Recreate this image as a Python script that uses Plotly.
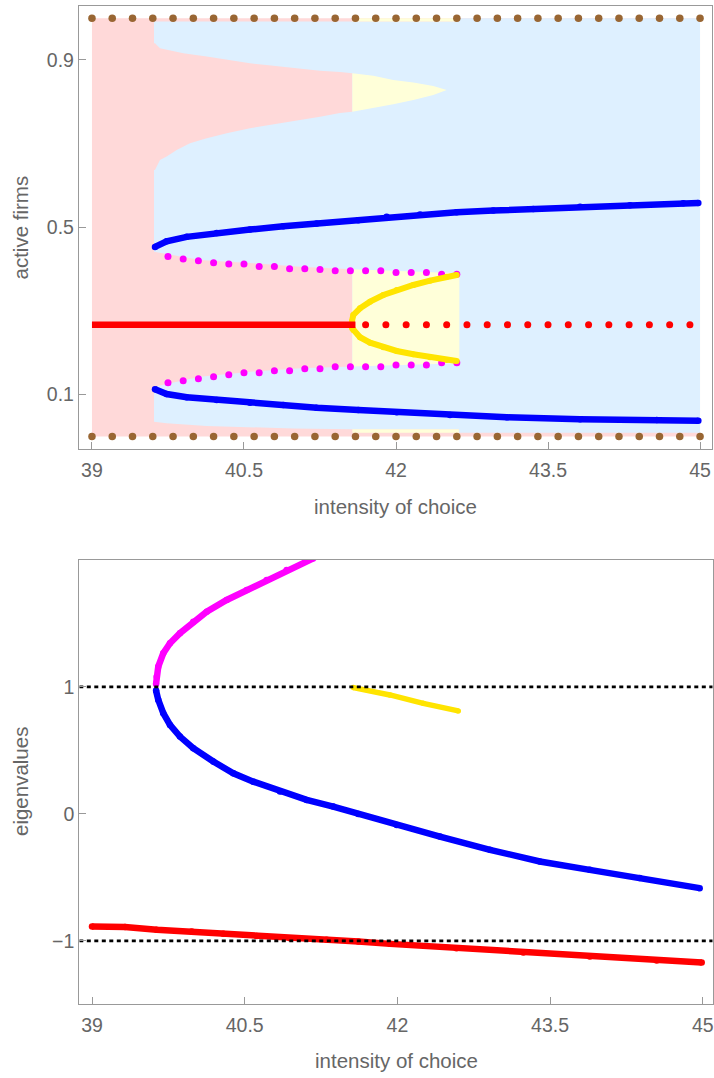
import plotly.graph_objects as go

# ---------------- top panel data ----------------
xticks = [39, 40.5, 42, 43.5, 45]
xtick_text = ["39", "40.5", "42", "43.5", "45"]
top_yticks = [0.1, 0.5, 0.9]
top_ytick_text = ["0.1", "0.5", "0.9"]
bot_yticks = [-1, 0, 1]
bot_ytick_text = ["\u22121", "0", "1"]

# basin background boundaries
base_x = [39, 45, 45, 39]
base_y = [0, 0, 1, 1]

blue_bot_x = [39.612, 39.737, 40.132, 40.461, 40.987, 41.569, 42.62, 42.62, 45.0]
blue_bot_y = [0.0353, 0.0315, 0.025, 0.022, 0.019, 0.017, 0.017, 0.009, 0.009]
blue_top_x = [39.612, 42.62, 42.62, 45.0]
blue_top_y = [0.992, 0.992, 1.0, 1.0]

wedge_up_x = [39.612, 39.622, 39.671, 39.802, 39.901, 40.132, 40.329, 40.559, 40.789, 41.020, 41.250, 41.447, 41.569]
wedge_up_y = [0.940, 0.940, 0.928, 0.922, 0.916, 0.908, 0.900, 0.892, 0.886, 0.880, 0.874, 0.871, 0.868]
wedge_lo_x = [39.612, 39.622, 39.671, 39.737, 39.836, 39.967, 40.132, 40.329, 40.559, 40.789, 41.020, 41.250, 41.447, 41.569]
wedge_lo_y = [0.637, 0.637, 0.661, 0.669, 0.685, 0.701, 0.713, 0.725, 0.737, 0.745, 0.755, 0.764, 0.773, 0.776]

ywedge_x = [41.569, 41.776, 41.973, 42.171, 42.368, 42.500]
ywedge_up = [0.868, 0.862, 0.852, 0.846, 0.838, 0.828]
ywedge_lo = [0.776, 0.785, 0.794, 0.804, 0.816, 0.828]

mid_x = [39.612, 40.066, 40.592, 41.053, 41.569]
mid_up = [0.4417, 0.4219, 0.414, 0.4059, 0.3996]
mid_lo = [0.119, 0.143, 0.155, 0.163, 0.167]

ymid_x = [41.569, 42.625]
ymid_up = [0.3996, 0.390]
ymid_lo = [0.167, 0.175]

ystrip_x = [41.569, 42.62]
ystrip_top = [0.992, 1.0]
ystrip_bot = [0.009, 0.017]

# attractor branches
blue_up_x = [39.622, 39.737, 39.935, 40.231, 40.559, 40.888, 41.217, 41.628, 41.908, 42.237,
             42.599, 42.960, 43.355, 43.816, 44.309, 44.835, 44.983]
blue_up_y = [0.4531, 0.4665, 0.4771, 0.4866, 0.4945, 0.5024, 0.5088, 0.5167, 0.5249, 0.5304,
             0.5359, 0.5399, 0.544, 0.5488, 0.5526, 0.5575, 0.558]
blue_lo_x = [39.622, 39.737, 39.935, 40.231, 40.559, 40.888, 41.217, 41.628, 42.007, 42.533,
             43.093, 43.816, 44.573, 44.983]
blue_lo_y = [0.1128, 0.1015, 0.0936, 0.0872, 0.0807, 0.0752, 0.0688, 0.0633, 0.0578, 0.0513,
             0.0458, 0.041, 0.0394, 0.0377]

magenta_x = [39.75, 39.9, 40.05, 40.2, 40.35, 40.5, 40.65, 40.8, 40.95, 41.1,
             41.25, 41.4, 41.55, 41.7, 41.85, 42.0, 42.15, 42.3, 42.45, 42.6]
magenta_up = [0.430, 0.424, 0.420, 0.415, 0.412, 0.412, 0.406, 0.406, 0.401, 0.401,
              0.399, 0.396, 0.396, 0.396, 0.396, 0.392, 0.392, 0.392, 0.388, 0.388]
magenta_lo = [0.1285, 0.1333, 0.1381, 0.1429, 0.1477, 0.1525, 0.1525, 0.1572, 0.1572, 0.162,
              0.162, 0.1668, 0.1668, 0.1668, 0.1668, 0.1709, 0.1709, 0.1709, 0.1764, 0.1764]

red_line_x = [39.0, 41.6]
red_line_y = [0.267, 0.267]
red_dot_x = [41.7, 41.9, 42.1, 42.3, 42.5, 42.7, 42.9, 43.1, 43.3, 43.5,
             43.7, 43.9, 44.1, 44.3, 44.5, 44.7, 44.9]
red_dot_y = [0.267] * len(red_dot_x)

yel_x = [41.565, 41.579, 41.645, 41.744, 41.875, 42.007, 42.171, 42.336, 42.5, 42.599]
yel_up = [0.275, 0.2904, 0.3064, 0.3222, 0.3382, 0.3502, 0.3621, 0.3724, 0.382, 0.386]
yel_lo = [0.259, 0.2545, 0.2371, 0.2242, 0.2132, 0.2043, 0.1964, 0.1893, 0.1828, 0.1804]

brown_x = [39.0 + 0.2 * i for i in range(31)]
brown_top = [1.0] * len(brown_x)
brown_bot = [0.0] * len(brown_x)

# ---------------- bottom panel data ----------------
ev_mag_x = [39.629, 39.635, 39.651, 39.70, 39.766, 39.864, 39.995, 40.127, 40.323, 40.52, 40.716, 40.912, 41.174]
ev_mag_y = [1.024, 1.081, 1.16, 1.265, 1.344, 1.423, 1.514, 1.593, 1.685, 1.764, 1.843, 1.921, 2.013]
ev_blue_x = [39.629, 39.651, 39.70, 39.766, 39.864, 39.995, 40.192, 40.388, 40.585, 40.847, 41.109,
             41.37, 41.616, 41.993, 42.418, 42.91, 43.40, 43.89, 44.38, 44.97]
ev_blue_y = [0.971, 0.898, 0.793, 0.701, 0.609, 0.517, 0.412, 0.320, 0.254, 0.176, 0.110,
             0.058, 0.0, -0.087, -0.179, -0.283, -0.375, -0.441, -0.506, -0.585]
ev_yel_x = [41.567, 41.927, 42.254, 42.598]
ev_yel_y = [0.995, 0.937, 0.871, 0.811]
ev_red_x = [39.0, 39.324, 39.635, 39.979, 40.29, 40.618, 40.945, 41.305, 41.616, 41.927,
            42.58, 43.237, 43.89, 44.547, 44.99]
ev_red_y = [-0.887, -0.892, -0.913, -0.927, -0.945, -0.961, -0.979, -0.992, -1.006, -1.024,
            -1.058, -1.092, -1.124, -1.155, -1.171]
ref_levels = [1, -1]

TOP_XR = [38.872, 45.115]
TOP_YR = [-0.030, 1.029]
BOT_XR = [38.875, 45.098]
BOT_YR = [-1.5, 2.0]

PINK = "rgb(255,217,217)"
LBLUE = "rgb(222,240,255)"
LYEL = "rgb(255,255,217)"
BLUE = "rgb(0,0,255)"
RED = "rgb(255,0,0)"
MAG = "rgb(255,0,255)"
YEL = "rgb(255,228,0)"
BROWN = "rgb(153,102,51)"

fig = go.Figure()


def poly(xs, ys, color):
    fig.add_trace(go.Scatter(x=xs, y=ys, fill="toself", fillcolor=color, mode="lines",
                             line=dict(width=0, color=color), hoverinfo="skip",
                             showlegend=False, xaxis="x", yaxis="y"))


def band(xs, up, lo, color):
    poly(list(xs) + list(xs)[::-1], list(up) + list(lo)[::-1], color)


# backgrounds
poly(base_x, base_y, PINK)
poly(blue_bot_x + blue_top_x[::-1], blue_bot_y + blue_top_y[::-1], LBLUE)
poly(wedge_up_x + wedge_lo_x[::-1], wedge_up_y + wedge_lo_y[::-1], PINK)
band(ywedge_x, ywedge_up, ywedge_lo, LYEL)
band(mid_x, mid_up, mid_lo, PINK)
band(ymid_x, ymid_up, ymid_lo, LYEL)
band(ystrip_x, [ystrip_top[1]] * 2, [ystrip_top[0]] * 2, LYEL)
band(ystrip_x, [ystrip_bot[1]] * 2, [ystrip_bot[0]] * 2, LYEL)


def curve(xs, ys, color, w, xa="x", ya="y"):
    fig.add_trace(go.Scatter(x=xs, y=ys, mode="lines+markers",
                             line=dict(color=color, width=w),
                             marker=dict(color=color, size=w),
                             showlegend=False, xaxis=xa, yaxis=ya))


def dots(xs, ys, color, s, xa="x", ya="y"):
    fig.add_trace(go.Scatter(x=xs, y=ys, mode="markers",
                             marker=dict(color=color, size=s),
                             showlegend=False, xaxis=xa, yaxis=ya))


curve(blue_up_x, blue_up_y, BLUE, 6.5)
curve(blue_lo_x, blue_lo_y, BLUE, 6.5)
dots(magenta_x, magenta_up, MAG, 7)
dots(magenta_x, magenta_lo, MAG, 7)
curve(yel_x, yel_up, YEL, 6)
curve(yel_x, yel_lo, YEL, 6)
fig.add_trace(go.Scatter(x=red_line_x, y=red_line_y, mode="lines",
                         line=dict(color=RED, width=6.5), showlegend=False))
dots(red_dot_x, red_dot_y, RED, 7)
dots(brown_x, brown_top, BROWN, 7.5)
dots(brown_x, brown_bot, BROWN, 7.5)

# bottom panel
curve(ev_mag_x, ev_mag_y, MAG, 6.5, "x2", "y2")
curve(ev_blue_x, ev_blue_y, BLUE, 6.5, "x2", "y2")
curve(ev_yel_x, ev_yel_y, YEL, 5.5, "x2", "y2")
curve(ev_red_x, ev_red_y, RED, 6.5, "x2", "y2")
for lv in ref_levels:
    fig.add_trace(go.Scatter(x=BOT_XR, y=[lv, lv], mode="lines",
                             line=dict(color="black", width=2.7, dash="4px,3.5px"),
                             showlegend=False, xaxis="x2", yaxis="y2"))

FONT = "Liberation Sans, Arial, sans-serif"
TXT = "#666666"
LINE = "#999999"
axis_common = dict(showgrid=False, zeroline=False, showline=True, mirror=True,
                   linecolor=LINE, linewidth=1.3, ticks="inside", ticklen=7,
                   tickwidth=1, tickcolor=LINE,
                   tickfont=dict(family=FONT, size=19.5, color=TXT))
x_common = dict(ticklabelstandoff=3)

fig.update_layout(
    width=714, height=1078,
    margin=dict(l=0, r=0, t=0, b=0),
    paper_bgcolor="white", plot_bgcolor="white",
    xaxis=dict(domain=[0.11064, 0.99678], range=TOP_XR, tickvals=xticks, ticktext=xtick_text,
               anchor="y", **axis_common, **x_common),
    yaxis=dict(domain=[0.58349, 0.99443], range=TOP_YR, tickvals=top_yticks, ticktext=top_ytick_text,
               anchor="x", **axis_common),
    xaxis2=dict(domain=[0.11106, 0.99818], range=BOT_XR, tickvals=xticks, ticktext=xtick_text,
                anchor="y2", **axis_common, **x_common),
    yaxis2=dict(domain=[0.06837, 0.48052], range=BOT_YR, tickvals=bot_yticks, ticktext=bot_ytick_text,
                anchor="x2", **axis_common),
    annotations=[
        dict(text="intensity of choice", x=395 / 714, y=1 - 506.7 / 1078, xref="paper", yref="paper",
             showarrow=False, font=dict(family=FONT, size=20.5, color=TXT), xanchor="center", yanchor="middle"),
        dict(text="intensity of choice", x=396 / 714, y=1 - 1060 / 1078, xref="paper", yref="paper",
             showarrow=False, font=dict(family=FONT, size=20.5, color=TXT), xanchor="center", yanchor="middle"),
        dict(text="active firms", x=20 / 714, y=1 - 227.5 / 1078, xref="paper", yref="paper", textangle=-90,
             showarrow=False, font=dict(family=FONT, size=20.5, color=TXT), xanchor="center", yanchor="middle"),
        dict(text="eigenvalues", x=20 / 714, y=1 - 782 / 1078, xref="paper", yref="paper", textangle=-90,
             showarrow=False, font=dict(family=FONT, size=20.5, color=TXT), xanchor="center", yanchor="middle"),
    ],
)

fig.write_html("out.html", config={"displayModeBar": False},
               post_script="document.body.style.margin='0px';document.body.style.overflow='hidden';")
